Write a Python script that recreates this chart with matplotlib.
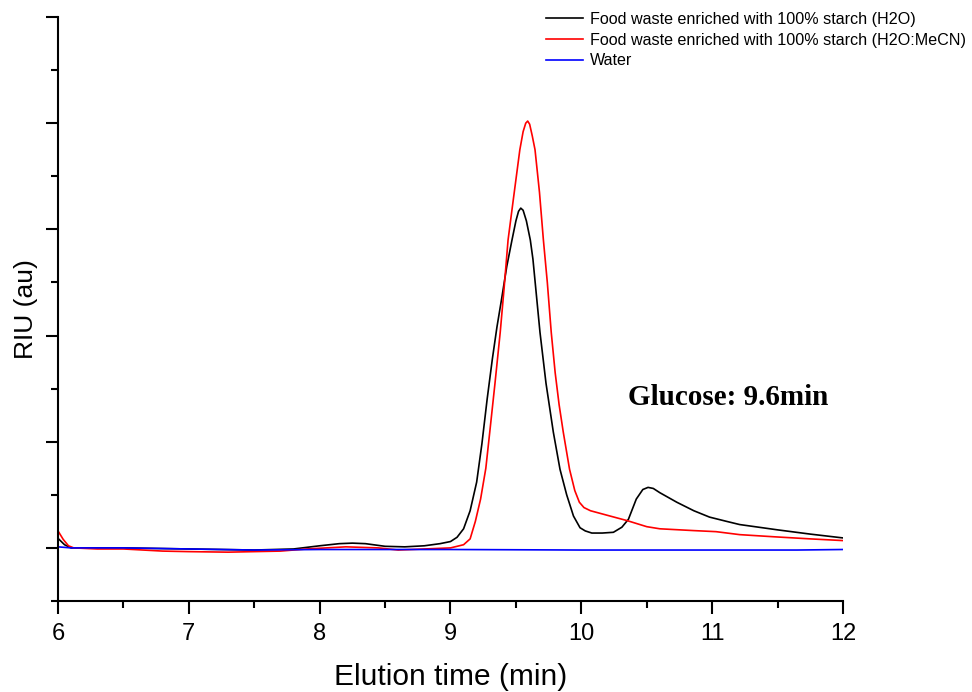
import numpy as np
import matplotlib.pyplot as plt
from matplotlib.ticker import MultipleLocator, NullFormatter

# --- data ---
x_h2o = [6.00, 6.05, 6.10, 6.50, 7.00, 7.50, 7.80, 8.00, 8.15, 8.25, 8.35, 8.50,
         8.65, 8.80, 8.92, 9.00, 9.05, 9.10, 9.15, 9.20, 9.24, 9.28, 9.32, 9.355,
         9.39, 9.43, 9.47, 9.50, 9.52, 9.537, 9.555, 9.58, 9.61, 9.63, 9.684, 9.73,
         9.786, 9.837, 9.888, 9.94, 9.99, 10.03, 10.08, 10.16, 10.245, 10.31, 10.36,
         10.42, 10.47, 10.51, 10.55, 10.60, 10.73, 10.86, 10.98, 11.11, 11.21,
         11.50, 11.75, 12.00]
y_h2o = [0.09, 0.03, 0.00, 0.00, -0.01, -0.02, -0.01, 0.02, 0.04, 0.045, 0.04, 0.015,
         0.01, 0.02, 0.04, 0.06, 0.10, 0.18, 0.35, 0.62, 0.98, 1.40, 1.78, 2.08,
         2.34, 2.65, 2.90, 3.08, 3.17, 3.20, 3.18, 3.08, 2.90, 2.72, 2.03, 1.55,
         1.09, 0.74, 0.50, 0.30, 0.19, 0.16, 0.14, 0.14, 0.147, 0.195, 0.27,
         0.46, 0.55, 0.57, 0.56, 0.52, 0.43, 0.35, 0.29, 0.25, 0.22,
         0.17, 0.13, 0.094]

x_mecn = [6.00, 6.04, 6.08, 6.12, 6.30, 6.50, 6.80, 7.00, 7.30, 7.70, 7.90, 8.20,
          8.45, 8.60, 8.80, 9.00, 9.10, 9.15, 9.19, 9.23, 9.27, 9.30, 9.34, 9.38,
          9.41, 9.44, 9.48, 9.53, 9.555, 9.575, 9.59, 9.605, 9.625, 9.646, 9.68,
          9.71, 9.74, 9.77, 9.80, 9.83, 9.862, 9.91, 9.95, 9.985, 10.02, 10.07, 10.22,
          10.35, 10.50, 10.60, 10.86, 11.03, 11.21, 11.47, 11.75, 12.00]
y_mecn = [0.16, 0.08, 0.02, 0.00, -0.01, -0.01, -0.03, -0.035, -0.04, -0.03, -0.01, 0.01,
          0.00, -0.02, -0.01, 0.00, 0.03, 0.085, 0.25, 0.46, 0.75, 1.09, 1.55, 2.03,
          2.45, 2.90, 3.28, 3.75, 3.92, 4.00, 4.02, 3.99, 3.88, 3.75, 3.35,
          2.90, 2.50, 2.03, 1.65, 1.35, 1.09, 0.74, 0.54, 0.43, 0.38, 0.35, 0.30,
          0.257, 0.20, 0.18, 0.163, 0.153, 0.125, 0.105, 0.085, 0.069]

x_water = [6.00, 6.10, 6.50, 7.00, 7.50, 8.00, 9.00, 10.00, 11.00, 11.65, 12.00]
y_water = [0.01, 0.00, 0.00, -0.01, -0.02, -0.015, -0.015, -0.02, -0.02, -0.02, -0.015]

labels = ['Food waste enriched with 100% starch (H2O)',
          'Food waste enriched with 100% starch (H2O:MeCN)',
          'Water']

plt.rcParams['font.family'] = ['Liberation Sans', 'DejaVu Sans']

fig = plt.figure(figsize=(9.72, 6.92), dpi=100)
ax = fig.add_axes([58 / 972, 1 - 601 / 692, 785 / 972, 584 / 692])

l1, = ax.plot(x_h2o, y_h2o, color='black', lw=1.2)
l2, = ax.plot(x_mecn, y_mecn, color='#ff0000', lw=1.2)
l3, = ax.plot(x_water, y_water, color='#0000ff', lw=1.2)

ax.set_xlim(6, 12)
ax.set_ylim(-0.5, 5.0)

for s in ['top', 'right']:
    ax.spines[s].set_visible(False)
for s in ['left', 'bottom']:
    ax.spines[s].set_linewidth(1.5)

ax.xaxis.set_major_locator(MultipleLocator(1))
ax.xaxis.set_minor_locator(MultipleLocator(0.5))
ax.yaxis.set_major_locator(MultipleLocator(1))
ax.yaxis.set_minor_locator(MultipleLocator(0.5))
ax.yaxis.set_major_formatter(NullFormatter())
ax.tick_params(which='major', length=9, width=1.5, labelsize=17, pad=7)
ax.tick_params(which='minor', length=5, width=1.5)

ax.set_xlabel('Elution time (min)', fontsize=21.5, labelpad=13)
ax.set_ylabel('RIU (au)', fontsize=19)
ax.yaxis.set_label_coords(-0.026, 0.5)

ax.text(10.357, 1.344, 'Glucose: 9.6min', fontsize=21, fontweight='bold',
        family='Liberation Serif', ha='left', va='baseline')

fig.legend([l1, l2, l3], labels, loc='upper left', bbox_to_anchor=(546 / 972, 0.983),
           frameon=False, fontsize=11.6, handlelength=2.3, handletextpad=0.4,
           labelspacing=0.36, borderpad=0, borderaxespad=0)

fig.savefig('out.png', dpi=100)
